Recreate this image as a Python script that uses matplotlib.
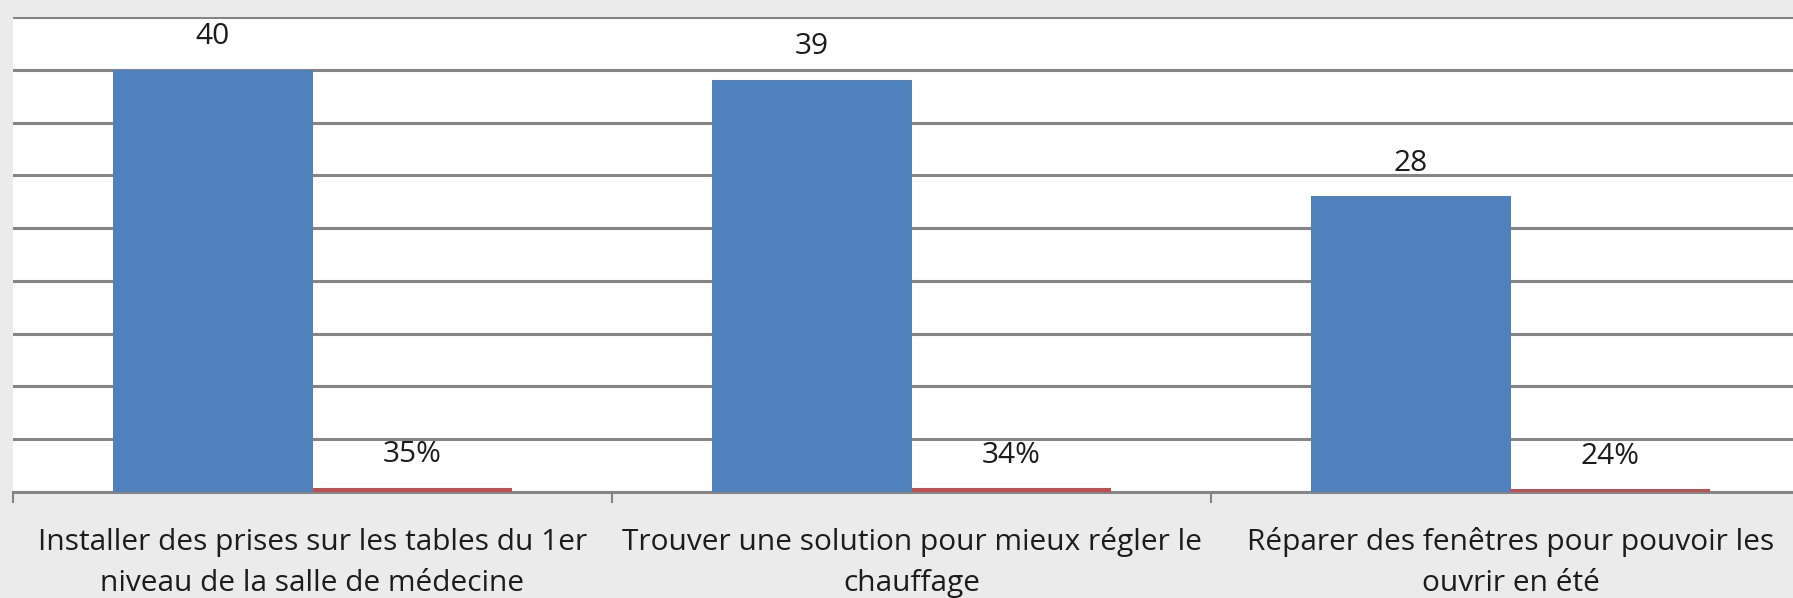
import matplotlib
matplotlib.use("Agg")
import matplotlib.pyplot as plt
import numpy as np

categories = [
    "Installer des prises sur les tables du 1er\nniveau de la salle de médecine",
    "Trouver une solution pour mieux régler le\nchauffage",
    "Réparer des fenêtres pour pouvoir les\nouvrir en été",
]
counts = [40, 39, 28]
shares = [0.35, 0.34, 0.24]

blue = "#4f81bd"
red = "#c0504d"
grid_color = "#858585"
bg = "#ebebeb"
txt = "#1c1c1c"

plt.rcParams["font.family"] = ["Open Sans", "DejaVu Sans"]

fig = plt.figure(figsize=(17.93, 5.98), dpi=100, facecolor=bg)
# plot area runs past the right edge, as in the source
ax = fig.add_axes([13 / 1793, (598 - 492) / 598, 1797 / 1793, (492 - 17) / 598])
ax.set_facecolor("white")

x = np.arange(len(categories))
w = 1 / 3
b1 = ax.bar(x - w / 2, counts, w, color=blue, zorder=3)
b2 = ax.bar(x + w / 2, shares, w, color=red, zorder=3)

ax.set_xlim(-0.5, len(categories) - 0.5)
ax.set_ylim(0, 45)
ax.set_yticks(np.arange(0, 46, 5))
ax.yaxis.grid(True, color=grid_color, linewidth=2.2)
ax.set_axisbelow(True)
ax.tick_params(axis="y", left=False, labelleft=False)

for s in ["top", "right", "left"]:
    ax.spines[s].set_visible(False)
ax.spines["bottom"].set_color(grid_color)
ax.spines["bottom"].set_linewidth(2.2)

ax.set_xticks(np.arange(len(categories) + 1) - 0.5)
ax.set_xticklabels([])
ax.tick_params(axis="x", length=8, width=1.5, color=grid_color)
for i, lab in enumerate(categories):
    ax.text(i, -6.7, lab, ha="center", va="center", fontsize=21.5, color=txt,
            linespacing=1.55)

for rect, v in zip(b1, counts):
    ax.annotate(f"{v}", (rect.get_x() + rect.get_width() / 2, v), xytext=(0, 24),
                textcoords="offset points", ha="center", va="center",
                fontsize=21.5, color=txt)
for rect, v in zip(b2, shares):
    ax.annotate(f"{round(v * 100)}%", (rect.get_x() + rect.get_width() / 2, v),
                xytext=(0, 24), textcoords="offset points", ha="center",
                va="center", fontsize=21.5, color=txt)

fig.savefig("out.png", dpi=100, facecolor=bg)
